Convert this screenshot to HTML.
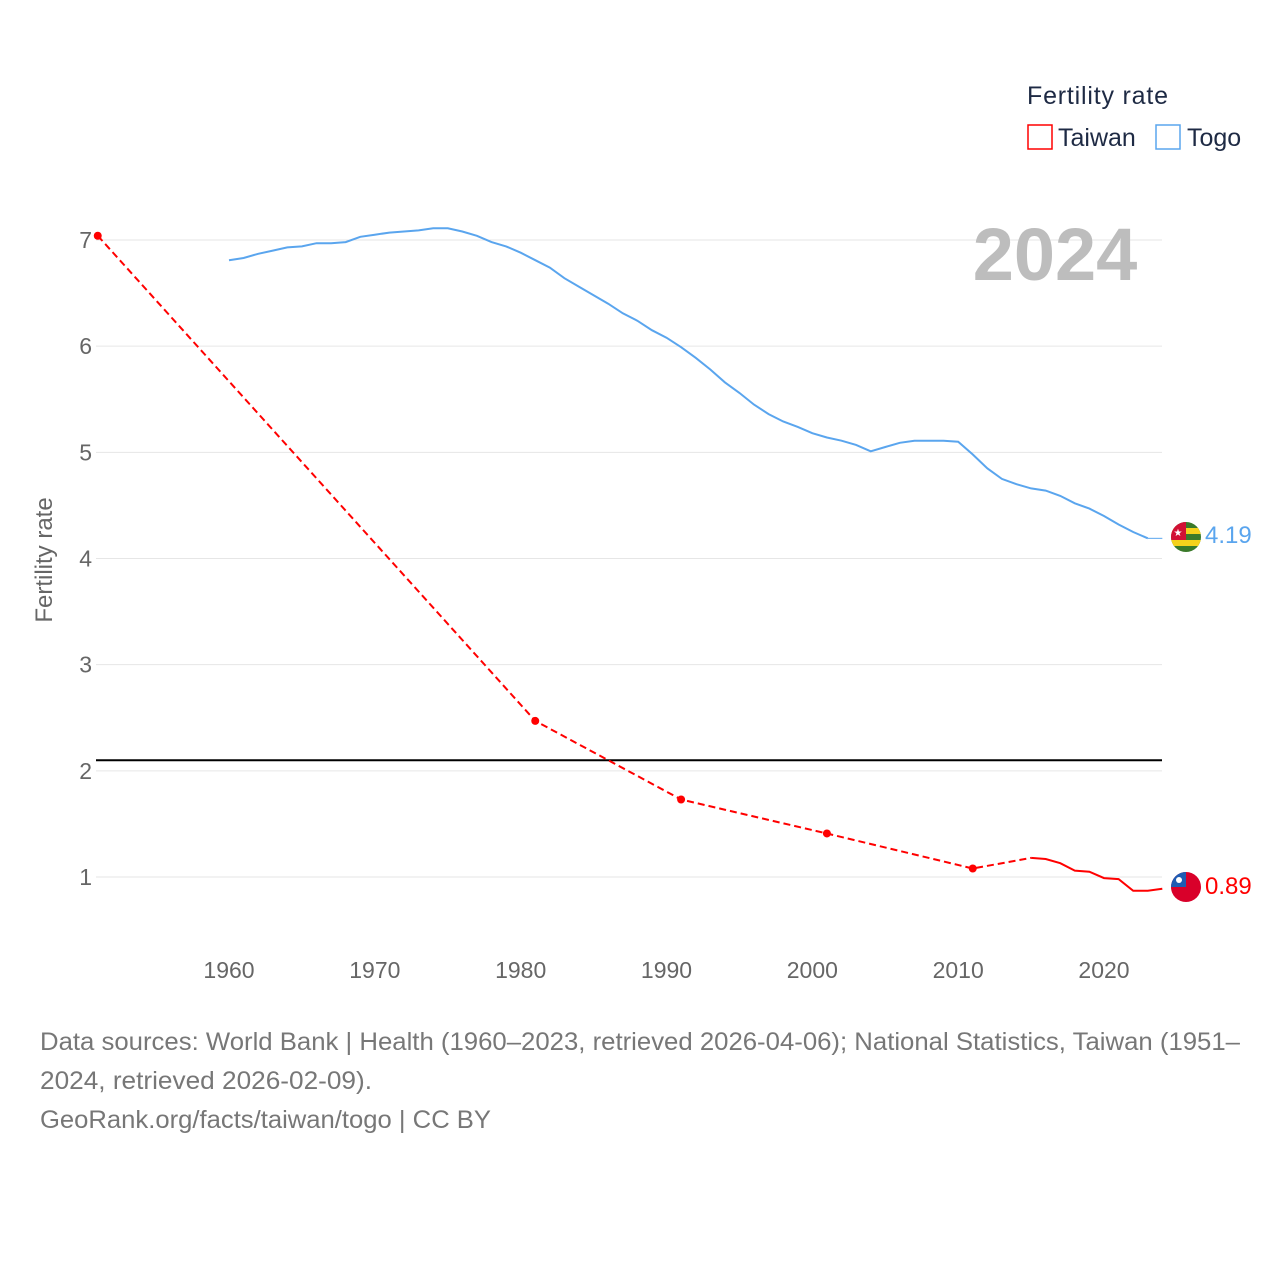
<!DOCTYPE html>
<html><head><meta charset="utf-8"><style>
body{margin:0;background:#fff;font-family:"Liberation Sans",sans-serif}
svg text{font-family:"Liberation Sans",sans-serif}
</style></head><body>
<svg id="c" width="1280" height="1280" xmlns="http://www.w3.org/2000/svg">
<rect width="1280" height="1280" fill="#fff"/>
<g id="grid"></g>
<text x="1055" y="280" font-size="74" font-weight="bold" fill="#bdbdbd" text-anchor="middle">2024</text>
<text x="52" y="560" font-size="24" fill="#666" text-anchor="middle" transform="rotate(-90 52 560)">Fertility rate</text>
<g id="marks"></g>
<text x="1027" y="104" font-size="25" fill="#1e2a44" textLength="141">Fertility rate</text>
<g><rect x="1028" y="125" width="24" height="24" fill="none" stroke="#f00" stroke-width="1.5"/><text x="1058" y="146" font-size="25" fill="#1e2a44">Taiwan</text></g>
<g><rect x="1156" y="125" width="24" height="24" fill="none" stroke="#5aa5ee" stroke-width="1.5"/><text x="1187" y="146" font-size="25" fill="#1e2a44">Togo</text></g>
<g>
<clipPath id="ct"><circle cx="1186" cy="537" r="15"/></clipPath>
<g clip-path="url(#ct)"><rect x="1171" y="522" width="30" height="30" fill="#3a7a2a"/><rect x="1171" y="528" width="30" height="6" fill="#f5d21c"/><rect x="1171" y="540" width="30" height="6" fill="#f5d21c"/><rect x="1171" y="522" width="15" height="18" fill="#d21034"/><text x="1178" y="536" font-size="10" fill="#fff" text-anchor="middle">★</text></g></g>
<text x="1205" y="543" font-size="24" fill="#5aa5ee">4.19</text>
<g>
<clipPath id="cw"><circle cx="1186" cy="887" r="15"/></clipPath>
<g clip-path="url(#cw)"><rect x="1171" y="872" width="30" height="30" fill="#d9002a"/><rect x="1171" y="872" width="15" height="15" fill="#1e5cb3"/><circle cx="1179" cy="880" r="3" fill="#fff"/></g></g>
<text x="1205" y="894" font-size="24" fill="#f00">0.89</text>
<text x="40" y="1050" font-size="25" fill="#777" textLength="1200" lengthAdjust="spacingAndGlyphs">Data sources: World Bank | Health (1960–2023, retrieved 2026-04-06); National Statistics, Taiwan (1951–</text>
<text x="40" y="1089" font-size="25" fill="#777" textLength="332" lengthAdjust="spacingAndGlyphs">2024, retrieved 2026-02-09).</text>
<text x="40" y="1128" font-size="25" fill="#777" textLength="451" lengthAdjust="spacingAndGlyphs">GeoRank.org/facts/taiwan/togo | CC BY</text>
</svg>
<script>
const togoYears=[1960,1961,1962,1963,1964,1965,1966,1967,1968,1969,1970,1971,1972,1973,1974,1975,1976,1977,1978,1979,1980,1981,1982,1983,1984,1985,1986,1987,1988,1989,1990,1991,1992,1993,1994,1995,1996,1997,1998,1999,2000,2001,2002,2003,2004,2005,2006,2007,2008,2009,2010,2011,2012,2013,2014,2015,2016,2017,2018,2019,2020,2021,2022,2023];
const togoValues=[6.81,6.83,6.87,6.90,6.93,6.94,6.97,6.97,6.98,7.03,7.05,7.07,7.08,7.09,7.11,7.11,7.08,7.04,6.98,6.94,6.88,6.81,6.74,6.64,6.56,6.48,6.40,6.31,6.24,6.15,6.08,5.99,5.89,5.78,5.66,5.56,5.45,5.36,5.29,5.24,5.18,5.14,5.11,5.07,5.01,5.05,5.09,5.11,5.11,5.11,5.10,4.98,4.85,4.75,4.70,4.66,4.64,4.59,4.52,4.47,4.40,4.32,4.25,4.19];
const taiwanSparseYears=[1951,1981,1991,2001,2011,2015];
const taiwanSparseValues=[7.04,2.47,1.73,1.41,1.08,1.18];
const taiwanYears=[2015,2016,2017,2018,2019,2020,2021,2022,2023,2024];
const taiwanValues=[1.18,1.17,1.13,1.06,1.05,0.99,0.98,0.87,0.87,0.89];
const yTicks=[1,2,3,4,5,6,7];
const xTicks=[1960,1970,1980,1990,2000,2010,2020];
const replacement=2.1;
const X=y=>229+(y-1960)*875/60;
const Y=v=>877-(v-1)*637/6;
const NS='http://www.w3.org/2000/svg';
function mk(p,t,a){const e=document.createElementNS(NS,t);for(const k in a)e.setAttribute(k,a[k]);p.appendChild(e);return e;}
const g=document.getElementById('grid'),m=document.getElementById('marks');
yTicks.forEach(v=>{
 const l=mk(g,'line',{x1:96,x2:1162,y1:Y(v),y2:Y(v),stroke:'#e6e6e6','stroke-width':1});
 
 
 const t=mk(g,'text',{x:92,y:Y(v)+8,'font-size':23,fill:'#666','text-anchor':'end'});t.textContent=v;
 
 
});
xTicks.forEach(y=>{
 const t=mk(g,'text',{x:X(y),y:978,'font-size':23,fill:'#666','text-anchor':'middle'});t.textContent=y;
 
 
});
const rl=mk(m,'line',{x1:96,x2:1162,y1:Y(replacement),y2:Y(replacement),stroke:'#000','stroke-width':2});


const pts=(xs,vs)=>xs.map((y,i)=>X(y).toFixed(1)+','+Y(vs[i]).toFixed(1)).join(' ');
const tl=mk(m,'polyline',{points:pts(togoYears,togoValues),fill:'none',stroke:'#5aa5ee','stroke-width':2});


const last=togoYears.length-1;
const te=mk(m,'line',{x1:X(togoYears[last]),y1:Y(togoValues[last]),x2:X(2024),y2:Y(togoValues[last]),stroke:'#5aa5ee','stroke-width':1});


const td=mk(m,'polyline',{points:pts(taiwanSparseYears,taiwanSparseValues),fill:'none',stroke:'#f00','stroke-width':2,'stroke-dasharray':'7,4'});


taiwanSparseYears.slice(0,-1).forEach((y,i)=>{
 const c=mk(m,'circle',{cx:X(y),cy:Y(taiwanSparseValues[i]),r:4,fill:'#f00'});
 
 
});
const ts=mk(m,'polyline',{points:pts(taiwanYears,taiwanValues),fill:'none',stroke:'#f00','stroke-width':2});


</script>
</body></html>
